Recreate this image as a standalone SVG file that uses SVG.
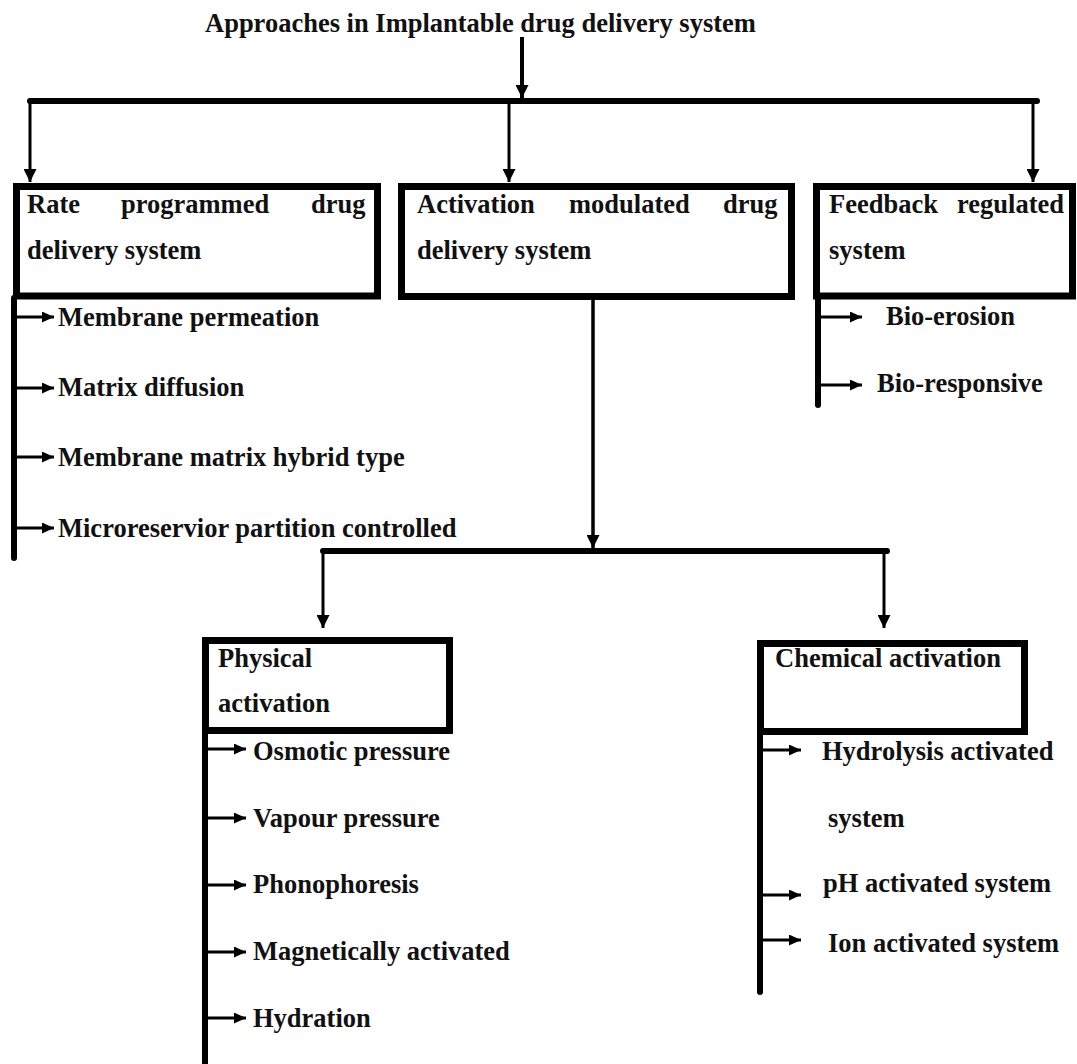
<svg xmlns="http://www.w3.org/2000/svg" width="1077" height="1064" viewBox="0 0 1077 1064">
<style>
.t{font-family:"Liberation Serif","Times New Roman",serif;font-weight:bold;font-size:26.5px;fill:#111;}
.box{fill:#fff;stroke:#000;stroke-width:7;}
.bar{stroke:#000;stroke-width:6;fill:none;stroke-linecap:round;}
.drop{stroke:#000;stroke-width:3;fill:none;marker-end:url(#big);}
.spine{stroke:#000;stroke-width:6;fill:none;stroke-linecap:round;}
.tick{stroke:#000;stroke-width:3;fill:none;marker-end:url(#small);}
</style>
<defs>
<marker id="big" markerUnits="userSpaceOnUse" markerWidth="13" markerHeight="13" refX="13" refY="6.5" orient="auto"><path d="M0,0 L13,6.5 L0,13 z" fill="#000"/></marker>
<marker id="small" markerUnits="userSpaceOnUse" markerWidth="12" markerHeight="11" refX="12" refY="5.5" orient="auto"><path d="M0,0 L12,5.5 L0,11 z" fill="#000"/></marker>
</defs>
<rect width="1077" height="1064" fill="#fff"/>

<g id="connectors">
<line x1="522" y1="37" x2="522" y2="98" stroke="#000" stroke-width="4" marker-end="url(#big)"/>
<line class="bar" x1="30" y1="101" x2="1037" y2="101"/>
<line class="drop" x1="30" y1="101" x2="30" y2="182"/>
<line class="drop" x1="509" y1="101" x2="509" y2="182"/>
<line class="drop" x1="1033" y1="101" x2="1033" y2="182"/>
<line class="spine" x1="14" y1="298" x2="14" y2="558"/>
<line class="tick" x1="14" y1="317" x2="54" y2="317"/>
<line class="tick" x1="14" y1="388" x2="54" y2="388"/>
<line class="tick" x1="14" y1="457" x2="54" y2="457"/>
<line class="tick" x1="14" y1="528" x2="54" y2="528"/>
<line class="spine" x1="818" y1="299" x2="818" y2="405"/>
<line class="tick" x1="818" y1="317" x2="862" y2="317"/>
<line class="tick" x1="818" y1="385" x2="862" y2="385"/>
<line x1="593" y1="300" x2="593" y2="548" stroke="#000" stroke-width="3.5" marker-end="url(#big)"/>
<line class="bar" x1="323" y1="551" x2="887" y2="551"/>
<line class="drop" x1="323" y1="551" x2="323" y2="628"/>
<line class="drop" x1="884" y1="551" x2="884" y2="628"/>
<line class="spine" x1="205" y1="734" x2="205" y2="1070"/>
<line class="tick" x1="205" y1="749" x2="246" y2="749"/>
<line class="tick" x1="205" y1="818" x2="246" y2="818"/>
<line class="tick" x1="205" y1="885" x2="246" y2="885"/>
<line class="tick" x1="205" y1="952" x2="246" y2="952"/>
<line class="tick" x1="205" y1="1018" x2="246" y2="1018"/>
<line class="spine" x1="760" y1="734" x2="760" y2="992"/>
<line class="tick" x1="760" y1="750" x2="801" y2="750"/>
<line class="tick" x1="760" y1="895" x2="801" y2="895"/>
<line class="tick" x1="760" y1="940" x2="801" y2="940"/>
</g>

<g id="title"><text class="t" x="205" y="32">Approaches in Implantable drug delivery system</text></g>

<g id="rate-programmed">
<rect class="box" x="16.5" y="186.5" width="361" height="109.5"/>
<text class="t" x="27" y="213">Rate</text>
<text class="t" x="121" y="213">programmed</text>
<text class="t" x="311" y="213">drug</text>
<text class="t" x="27" y="259">delivery system</text>
</g>

<g id="activation-modulated">
<rect class="box" x="401.5" y="186.5" width="390" height="110"/>
<text class="t" x="417" y="213">Activation</text>
<text class="t" x="569" y="213">modulated</text>
<text class="t" x="723" y="213">drug</text>
<text class="t" x="417" y="259">delivery system</text>
</g>

<g id="feedback-regulated">
<rect class="box" x="816.5" y="186.5" width="256" height="109.5"/>
<text class="t" x="829" y="213">Feedback</text>
<text class="t" x="957" y="213">regulated</text>
<text class="t" x="829" y="259">system</text>
</g>

<g id="membrane-permeation"><text class="t" x="58" y="326">Membrane permeation</text></g>
<g id="matrix-diffusion"><text class="t" x="58" y="396">Matrix diffusion</text></g>
<g id="membrane-matrix-hybrid"><text class="t" x="58" y="466">Membrane matrix hybrid type</text></g>
<g id="microreservior"><text class="t" x="58" y="537">Microreservior partition controlled</text></g>

<g id="bio-erosion"><text class="t" x="886" y="325">Bio-erosion</text></g>
<g id="bio-responsive"><text class="t" x="877" y="392">Bio-responsive</text></g>

<g id="physical-activation">
<rect class="box" x="205.5" y="640.5" width="244" height="90"/>
<text class="t" x="218" y="667">Physical</text>
<text class="t" x="218" y="712">activation</text>
</g>

<g id="chemical-activation">
<rect class="box" x="760.5" y="643.5" width="264" height="88"/>
<text class="t" x="775" y="667">Chemical activation</text>
</g>

<g id="osmotic-pressure"><text class="t" x="253" y="760">Osmotic pressure</text></g>
<g id="vapour-pressure"><text class="t" x="253" y="827">Vapour pressure</text></g>
<g id="phonophoresis"><text class="t" x="253" y="893">Phonophoresis</text></g>
<g id="magnetically-activated"><text class="t" x="253" y="960">Magnetically activated</text></g>
<g id="hydration"><text class="t" x="253" y="1027">Hydration</text></g>

<g id="hydrolysis-activated"><text class="t" x="822" y="760">Hydrolysis activated</text><text class="t" x="828" y="827">system</text></g>
<g id="ph-activated"><text class="t" x="823" y="892">pH activated system</text></g>
<g id="ion-activated"><text class="t" x="828" y="952">Ion activated system</text></g>
</svg>
